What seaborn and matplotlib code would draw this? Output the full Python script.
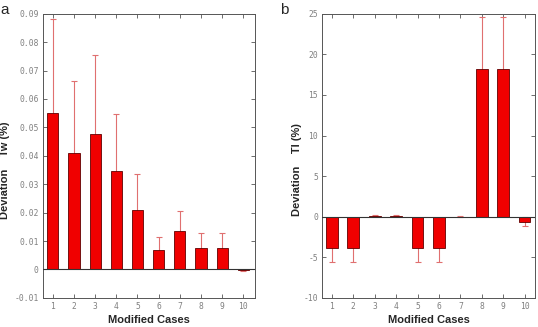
import matplotlib
matplotlib.use('Agg')
import matplotlib.pyplot as plt
import numpy as np
import pandas as pd
import seaborn as sns

# data
cases = [1, 2, 3, 4, 5, 6, 7, 8, 9, 10]
tw_dev = [0.0552, 0.0409, 0.0478, 0.0345, 0.0209, 0.0068, 0.0135, 0.0076, 0.0076, -0.0003]
tw_err = [0.0330, 0.0253, 0.0278, 0.0203, 0.0126, 0.0047, 0.0072, 0.0054, 0.0054, 0.0002]
tl_dev = [-3.8, -3.8, 0.1, 0.1, -3.8, -3.8, 0.0, 18.2, 18.2, -0.6]
tl_err = [1.75, 1.75, 0.05, 0.05, 1.75, 1.75, 0.05, 6.4, 6.4, 0.6]

sns.set_style('white')
plt.rcParams['font.family'] = ['Liberation Sans', 'DejaVu Sans']

fig = plt.figure(figsize=(5.38, 3.27), dpi=100)
ax1 = fig.add_axes([0.080, 0.089, 0.394, 0.869])
ax2 = fig.add_axes([0.599, 0.089, 0.396, 0.869])

panels = [
    (ax1, tw_dev, tw_err, 'Deviation    Tw (%)', (-0.01, 0.09), np.arange(-0.01, 0.0901, 0.01), 0.53, (-0.46, 9.55), 'a', 0.0, -0.155),
    (ax2, tl_dev, tl_err, 'Deviation    Tl (%)', (-10, 25), np.arange(-10, 26, 5), 0.55, (-0.45, 9.5), 'b', 0.52, -0.094),
]

for ax, dev, err, ylab, ylim, yt, w, xl, letter, lx, ylx in panels:
    df = pd.DataFrame({'case': cases, 'dev': dev})
    ax.errorbar(np.arange(len(cases)), dev, yerr=err, fmt='none', ecolor='#e07070',
                elinewidth=0.8, capsize=2, capthick=0.8, zorder=1)
    sns.barplot(x='case', y='dev', data=df, ax=ax, color='#f00000', saturation=1,
                width=w, edgecolor='#600000', linewidth=0.6, zorder=2)
    ax.axhline(0, color='#333333', lw=0.8, zorder=3)
    ax.set_xlim(*xl)
    ax.set_ylim(*ylim)
    ax.set_yticks(yt)
    if letter == 'a':
        ax.set_yticklabels(['-0.01', '0'] + ['%.2f' % v for v in yt[2:]])
    else:
        ax.set_yticklabels(['%d' % v for v in yt])
    ax.set_xticks(range(len(cases)))
    ax.set_xticklabels([str(c) for c in cases])
    ax.tick_params(direction='in', length=3, width=0.6, top=True, right=True,
                   bottom=True, left=True, labelsize=5.8, colors='#555555', pad=3)
    for lab in ax.get_xticklabels() + ax.get_yticklabels():
        lab.set_family('DejaVu Sans Mono')
        lab.set_color('#808080')
    for s in ax.spines.values():
        s.set_linewidth(0.7)
        s.set_color('#555555')
    ax.set_xlabel('Modified Cases', fontsize=8, fontweight='bold', labelpad=3)
    ax.set_ylabel(ylab, fontsize=8, fontweight='bold')
    ax.yaxis.set_label_coords(ylx, 0.45)
    fig.text(lx, 0.97, letter, fontsize=11, ha='left', va='center')

plt.savefig('out.png', dpi=100)
